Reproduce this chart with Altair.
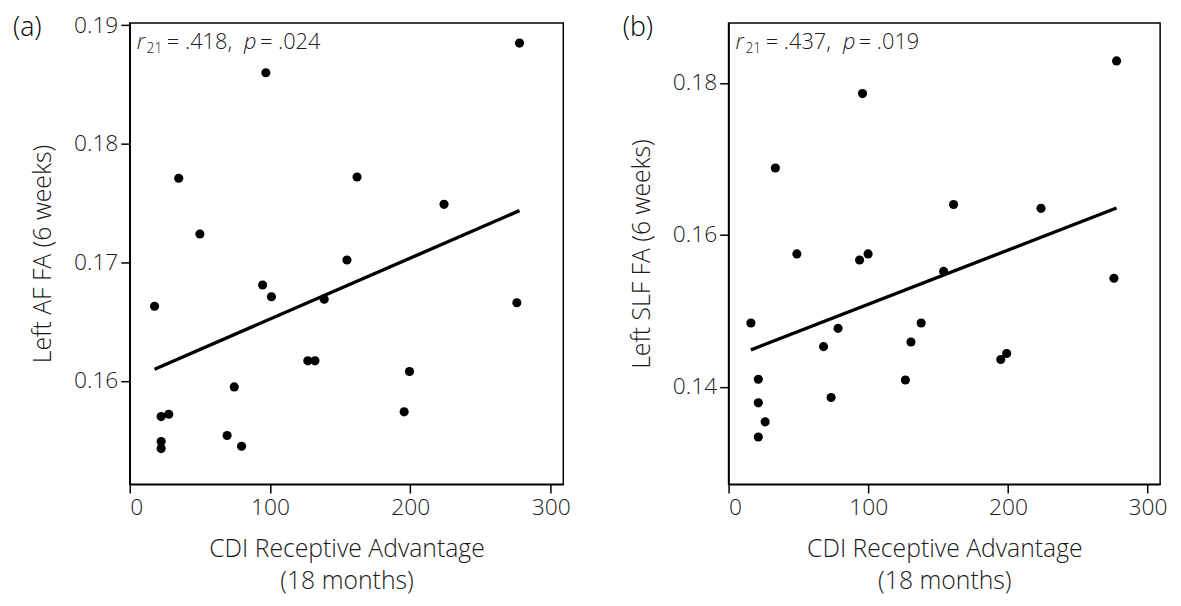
import altair as alt
import pandas as pd

# ---- data ----
a_x = [277.8, 97, 34.9, 162, 224, 50, 154.8, 94.7, 101, 17.7, 138.6, 275.9,
       126.9, 132, 199.4, 74.5, 27.8, 22.4, 195.6, 69.4, 22.4, 22.4, 79.7]
a_y = [0.1885, 0.1860, 0.1771, 0.1772, 0.1749, 0.1724, 0.1702, 0.1681, 0.1671,
       0.1663, 0.1669, 0.1666, 0.1617, 0.1617, 0.1608, 0.1595, 0.1572, 0.1570,
       0.1574, 0.1554, 0.1549, 0.1543, 0.1545]

b_x = [277.8, 95.9, 33.5, 161.1, 223.7, 48.9, 99.9, 93.8, 154, 275.9, 16, 78.4,
       137.9, 68, 130.6, 199.1, 194.9, 21.3, 126.6, 73.4, 21.3, 26.2, 21.3]
b_y = [0.1829, 0.1786, 0.1688, 0.1640, 0.1635, 0.1575, 0.1575, 0.1567, 0.1552,
       0.1543, 0.1484, 0.1477, 0.1484, 0.1453, 0.1459, 0.1444, 0.1436, 0.1410,
       0.1409, 0.1386, 0.1379, 0.1354, 0.1334]

x_ticks = [0, 100, 200, 300]
a_y_ticks = [0.16, 0.17, 0.18, 0.19]
b_y_ticks = [0.14, 0.16, 0.18]

x_title = ["CDI Receptive Advantage", "(18 months)"]
a_y_title = "Left AF FA (6 weeks)"
b_y_title = "Left SLF FA (6 weeks)"
a_stats = ["r", "21", "= .418,", "p", "= .024"]
b_stats = ["r", "21", "= .437,", "p", "= .019"]
panel_labels = ["(a)", "(b)"]

FONT = "Open Sans"
TXT = "#1a1a1a"
W = 300


def panel(xs, ys, ydom, yticks, ytitle, stats, label, w, label_dx):
    df = pd.DataFrame({"x": xs, "y": ys})
    xenc = alt.X("x:Q", scale=alt.Scale(domain=[0, 309], nice=False, zero=False),
                 axis=alt.Axis(values=x_ticks, title=x_title, format="d"))
    yenc = alt.Y("y:Q", scale=alt.Scale(domain=ydom, nice=False, zero=False),
                 axis=alt.Axis(values=yticks, title=ytitle, format=".2f"))
    base = alt.Chart(df)
    pts = base.mark_circle(size=85, color="black", opacity=1).encode(x=xenc, y=yenc)
    line = base.transform_regression("x", "y").mark_line(
        color="black", strokeWidth=3.4).encode(x=xenc, y=yenc)

    layers = [pts, line]
    # annotation pieces: r (italic), subscript 21, text, p (italic), text
    offs = [7, 17, 37.5, 115.5, 131.5]
    dys = [26, 30, 26, 26, 26]
    sizes = [22, 14, 22, 22, 22]
    styles = ["italic", "normal", "normal", "italic", "normal"]
    for s, dx, dy, fs, st in zip(stats, offs, dys, sizes, styles):
        layers.append(
            alt.Chart(pd.DataFrame({"t": [s]})).mark_text(
                align="left", baseline="alphabetic", fontSize=fs, font=FONT,
                fontStyle=st, fontWeight=W, color=TXT
            ).encode(text="t:N", x=alt.value(dx), y=alt.value(dy))
        )
    layers.append(
        alt.Chart(pd.DataFrame({"t": [label]})).mark_text(
            align="left", baseline="middle", fontSize=27, font=FONT,
            fontWeight=W, color="black"
        ).encode(text="t:N", x=alt.value(label_dx), y=alt.value(5))
    )
    return alt.layer(*layers).properties(width=w, height=466)


left = panel(a_x, a_y, [0.1513, 0.1902], a_y_ticks, a_y_title, a_stats,
             panel_labels[0], 438, -118)
right = panel(b_x, b_y, [0.1272, 0.1879], b_y_ticks, b_y_title, b_stats,
              panel_labels[1], 436, -107)

chart = alt.hconcat(left, right, spacing=51).properties(
    padding={"left": 4, "top": 2, "right": 5, "bottom": 5}
).configure_view(
    stroke="black", strokeWidth=1.5
).configure_axis(
    grid=False, domainColor="black", domainWidth=1.5, tickColor="black",
    tickWidth=1.5, tickSize=9, labelFont=FONT, labelFontSize=23, labelColor=TXT,
    labelFontWeight=W, titleFont=FONT, titleFontSize=25, titleFontWeight=W,
    titleColor=TXT, labelPadding=3, titleLineHeight=32
).configure_axisY(
    titlePadding=18
).configure_axisX(
    titlePadding=17, labelPadding=4
)

chart.save("out.html", embed_options={"renderer": "svg", "actions": False})
